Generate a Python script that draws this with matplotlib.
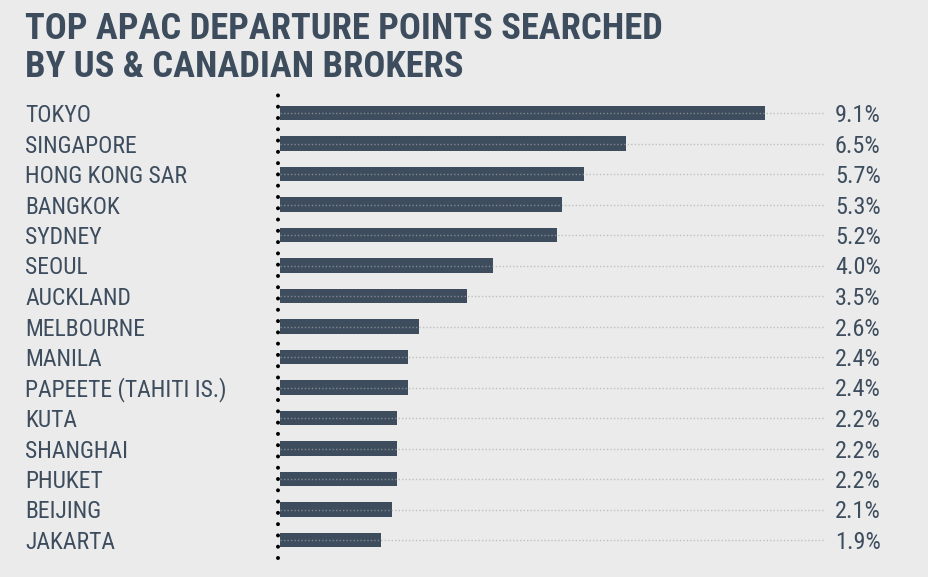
import matplotlib.pyplot as plt
from matplotlib.transforms import offset_copy

cities = ['TOKYO', 'SINGAPORE', 'HONG KONG SAR', 'BANGKOK', 'SYDNEY', 'SEOUL',
          'AUCKLAND', 'MELBOURNE', 'MANILA', 'PAPEETE (TAHITI IS.)', 'KUTA',
          'SHANGHAI', 'PHUKET', 'BEIJING', 'JAKARTA']
shares = [9.1, 6.5, 5.7, 5.3, 5.2, 4.0, 3.5, 2.6, 2.4, 2.4, 2.2, 2.2, 2.2, 2.1, 1.9]
pct_labels = ['9.1%', '6.5%', '5.7%', '5.3%', '5.2%', '4.0%', '3.5%', '2.6%',
              '2.4%', '2.4%', '2.2%', '2.2%', '2.2%', '2.1%', '1.9%']

cond = ['Roboto Condensed', 'DejaVu Sans']
bg = '#ebebeb'
bar_col = '#3d4d5e'
txt_col = '#3d4d5e'

W, H = 929, 577
fig = plt.figure(figsize=(W / 100, H / 100), dpi=100, facecolor=bg)

# axes placed in pixels: bars start at x=280, grid runs to x=825
x0, x1 = 280, 825
y_top, y_bot = 93, 559
ax = fig.add_axes([x0 / W, 1 - y_bot / H, (x1 - x0) / W, (y_bot - y_top) / H])
ax.set_facecolor(bg)

px_per_unit = 53.3
ax.set_xlim(0, (x1 - x0) / px_per_unit)
row_h = 30.5
ax.set_ylim((y_bot - 113) / row_h, (y_top - 113) / row_h)

ypos = list(range(len(cities)))
ax.barh(ypos, shares, height=0.46, color=bar_col, zorder=2)

# dotted guide lines across each row
for y in ypos:
    ax.plot([0, ax.get_xlim()[1]], [y, y], color='#a8a8a8', alpha=0.65, lw=1,
            linestyle=(0, (1, 1.5)), zorder=3)

# dotted vertical axis line
ax.plot([-2 / px_per_unit] * 2, [ax.get_ylim()[0] - 0.03, ax.get_ylim()[1] + 0.03],
        color='black', lw=2.9, linestyle=(0, (0.001, 2.8)), dash_capstyle='round',
        clip_on=False, zorder=4)

# labels sit a touch below the bar centre
lab_tr = offset_copy(ax.get_yaxis_transform(), fig=fig, y=-1.8, units='points')
for y, name, lab in zip(ypos, cities, pct_labels):
    ax.text(-(x0 - 25) / (x1 - x0), y, name, transform=lab_tr,
            ha='left', va='center', fontsize=17, color=txt_col, family=cond)
    ax.text((835 - x0) / (x1 - x0), y, lab, transform=lab_tr,
            ha='left', va='center', fontsize=17.5, color=txt_col, family=cond)

for s in ax.spines.values():
    s.set_visible(False)
ax.set_xticks([])
ax.set_yticks([])

fig.text(25 / W, 1 - 39 / H, 'TOP APAC DEPARTURE POINTS SEARCHED', fontsize=26.3,
         fontweight='bold', color=txt_col, family=cond, va='baseline')
fig.text(25 / W, 1 - 77 / H, 'BY US & CANADIAN BROKERS', fontsize=26.3,
         fontweight='bold', color=txt_col, family=cond, va='baseline')

fig.savefig('out.png', dpi=100, facecolor=bg)
